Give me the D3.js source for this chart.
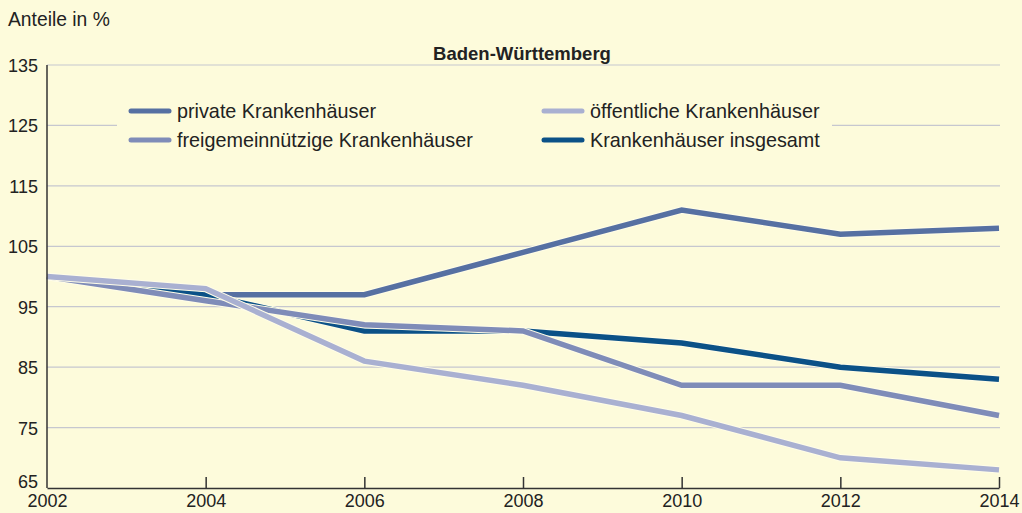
<!DOCTYPE html>
<html><head><meta charset="utf-8">
<script src="https://cdn.jsdelivr.net/npm/d3@7"></script>
<style>
html,body{margin:0;padding:0;background:#fdfbdb;}
svg{display:block;font-family:"Liberation Sans",Arial,sans-serif;}
</style></head>
<body><svg id="c" width="1022" height="513"></svg>
<script>
const years = [2002, 2004, 2006, 2008, 2010, 2012, 2014];
const yTicks = [65, 75, 85, 95, 105, 115, 125, 135];
const privat = [100, 97, 97, 104, 111, 107, 108];
const oeffentlich = [100, 98, 86, 82, 77, 70, 68];
const freigemein = [100, 96, 92, 91, 82, 82, 77];
const insgesamt = [100, 97, 91, 91, 89, 85, 83];
const seriesNames = ["private Krankenhäuser", "freigemeinnützige Krankenhäuser", "öffentliche Krankenhäuser", "Krankenhäuser insgesamt"];
const title = "Baden-Württemberg";
const yLabel = "Anteile in %";

const colors = {
  privat: "#5670a2",
  frei: "#7f8cb8",
  oeff: "#a9b0d1",
  ins: "#0b5187"
};
const svg = d3.select("#c");
const L = 47, R = 999, T = 65, B = 488;
const x = d3.scaleLinear().domain([2002, 2014]).range([L, R]);
const y = d3.scaleLinear().domain([65, 135]).range([B, T]);

// grid
svg.append("g").selectAll("line").data(yTicks.filter(d => d > 65)).join("line")
  .attr("x1", L).attr("x2", 1000).attr("y1", d => y(d)).attr("y2", d => y(d))
  .attr("stroke", "#c6c7cf").attr("stroke-width", 1.2);

// legend box background (covers gridlines)
const lg = svg.append("g");
lg.append("rect").attr("x", 117).attr("y", 92).attr("width", 715).attr("height", 66).attr("fill", "#fdfbdb");
const legendItems = [
  {name: seriesNames[0], c: colors.privat, x: 130, y: 111},
  {name: seriesNames[1], c: colors.frei, x: 130, y: 140},
  {name: seriesNames[2], c: colors.oeff, x: 543, y: 111},
  {name: seriesNames[3], c: colors.ins, x: 543, y: 140}
];
legendItems.forEach(it => {
  lg.append("line").attr("x1", it.x + 1).attr("x2", it.x + 39).attr("y1", it.y).attr("y2", it.y)
    .attr("stroke", it.c).attr("stroke-width", 5).attr("stroke-linecap", "round");
  lg.append("text").attr("x", it.x + 47).attr("y", it.y + 7).attr("font-size", 19.8)
    .attr("fill", "#222").text(it.name);
});

// title
svg.append("text").attr("x", 522).attr("y", 60).attr("text-anchor", "middle")
  .attr("font-weight", "bold").attr("font-size", 18.5).attr("fill", "#222").text(title);
svg.append("text").attr("x", 8).attr("y", 26).attr("font-size", 19.3).attr("fill", "#222").text(yLabel);

// lines
const line = d3.line().x((d, i) => x(years[i])).y(d => y(d)).curve(d3.curveLinear);
const order = [[privat, colors.privat], [insgesamt, colors.ins], [freigemein, colors.frei], [oeffentlich, colors.oeff]];
const lg2 = svg.append("g");
order.forEach(([data, c]) => {
  lg2.append("path").attr("d", line(data)).attr("fill", "none").attr("stroke", "#fffde8")
    .attr("stroke-width", 7.5).attr("stroke-linejoin", "miter");
  lg2.append("path").attr("d", line(data)).attr("fill", "none").attr("stroke", c)
    .attr("stroke-width", 5.5).attr("stroke-linejoin", "miter");
});

// axes
const yAxis = svg.append("g");
yAxis.append("line").attr("x1", L).attr("x2", L).attr("y1", T).attr("y2", B).attr("stroke", "#333").attr("stroke-width", 1.5);
yAxis.selectAll("text").data(yTicks).join("text")
  .attr("x", 38).attr("y", d => y(d) + (d === 65 ? 0 : 7)).attr("text-anchor", "end")
  .attr("font-size", 18).attr("fill", "#222").text(d => d);

const xAxis = d3.axisBottom(x).tickValues(years).tickFormat(d3.format("d")).tickSize(0);
const gx = svg.append("g").attr("transform", `translate(0,${B})`).call(xAxis);
gx.select(".domain").attr("stroke", "#333").attr("stroke-width", 1.5);
gx.selectAll("text").attr("font-size", 18).attr("fill", "#222").attr("dy", "0.95em")
  .attr("font-family", "Liberation Sans, Arial, sans-serif").attr("y", 2);
gx.selectAll(".tick").filter(d => d > 2002).append("line")
  .attr("y1", 0).attr("y2", -11).attr("stroke", "#333").attr("stroke-width", 1.5);
</script></body></html>
